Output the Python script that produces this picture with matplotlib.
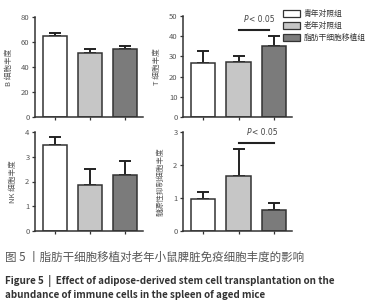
import numpy as np
import matplotlib
matplotlib.use("Agg")
import matplotlib.pyplot as plt
from matplotlib.patches import Patch

plt.rcParams['font.family'] = ['Noto Sans CJK SC', 'DejaVu Sans']

groups = ['青年对照组', '老年对照组', '脂肪干细胞移植组']
colors = ['#ffffff', '#c6c6c6', '#7b7b7b']

b_mean = [65, 51, 54.5]
b_err = [2, 3.5, 2.5]
t_mean = [26.5, 27, 35]
t_err = [6, 3.2, 5]
nk_mean = [3.48, 1.84, 2.26]
nk_err = [0.32, 0.66, 0.58]
mdsc_mean = [0.97, 1.67, 0.65]
mdsc_err = [0.22, 0.8, 0.19]

# (label, means, errors, y ticks, significance bar: from, to, height)
panels = [
    ('B 细胞丰度', b_mean, b_err, [0, 20, 40, 60, 80], None),
    ('T 细胞丰度', t_mean, t_err, [0, 10, 20, 30, 40, 50], (1, 1.85, 43)),
    ('NK 细胞丰度', nk_mean, nk_err, [0, 1, 2, 3, 4], None),
    ('髓源性抑制细胞丰度', mdsc_mean, mdsc_err, [0, 1, 2, 3], (1, 2.0, 2.67)),
]

W, H = 374, 300
fig = plt.figure(figsize=(3.74, 3.0), dpi=100)

# axes boxes in pixels: left, top, right, bottom
boxes = [(35, 17, 143, 117), (183, 16, 292, 117),
         (35, 132, 143, 231), (183, 132, 292, 231)]

axis_col = '#333333'
x = np.arange(3)
for (label, mean, err, ticks, sig), (l, t, r, b) in zip(panels, boxes):
    ax = fig.add_axes([l / W, 1 - b / H, (r - l) / W, (b - t) / H])
    ax.bar(x, mean, width=0.68, color=colors, edgecolor=axis_col, linewidth=1.1, zorder=2)
    ax.errorbar(x, mean, yerr=[np.zeros(3), err], fmt='none', ecolor='#222222',
                elinewidth=1.4, capsize=4.5, capthick=1.4, zorder=1)
    ax.set_xlim(-0.56, 2.5)
    ax.set_ylim(0, ticks[-1])
    ax.set_yticks(ticks)
    ax.set_xticks(x)
    ax.set_xticklabels([])
    for s in ['top', 'right']:
        ax.spines[s].set_visible(False)
    for s in ['left', 'bottom']:
        ax.spines[s].set_color(axis_col)
        ax.spines[s].set_linewidth(1.1)
    ax.tick_params(axis='both', colors=axis_col, labelcolor='#555555', labelsize=5.5,
                   length=2.5, width=0.9, pad=1.5)
    ax.set_ylabel(label, fontsize=5.5, color='#555555', labelpad=6)
    if sig is not None:
        x0, x1, y = sig
        ax.plot([x0, x1], [y, y], color='#222222', lw=1.5, clip_on=False)
        xm = (x0 + x1) / 2 - 0.15
        ty = y + ticks[-1] * 0.06
        ax.text(xm, ty, 'P', style='italic', ha='right', va='bottom',
                fontsize=5.5, color='#444444', family='DejaVu Sans')
        ax.text(xm + 0.02, ty, '< 0.05', ha='left', va='bottom',
                fontsize=5.5, color='#444444', family='DejaVu Sans')

handles = [Patch(facecolor=c, edgecolor=axis_col, linewidth=0.9) for c in colors]
fig.legend(handles, groups, loc='upper left', bbox_to_anchor=(280 / W, 1 - 7 / H),
           frameon=False, fontsize=5.6, handlelength=2.2, handleheight=1.0,
           handletextpad=0.4, labelspacing=0.5, borderaxespad=0, labelcolor='#333333')

fig.text(5 / W, 1 - 257 / H, '图 5 丨脂肪干细胞移植对老年小鼠脾脏免疫细胞丰度的影响',
         fontsize=8.3, color='#555555', va='center', ha='left')
fig.text(5 / W, 1 - 281 / H,
         'Figure 5  |  Effect of adipose-derived stem cell transplantation on the',
         fontsize=7.1, fontweight='bold', color='#333333', va='center', ha='left')
fig.text(5 / W, 1 - 295 / H, 'abundance of immune cells in the spleen of aged mice',
         fontsize=7.1, fontweight='bold', color='#333333', va='center', ha='left')

fig.savefig('out.png', dpi=100)
